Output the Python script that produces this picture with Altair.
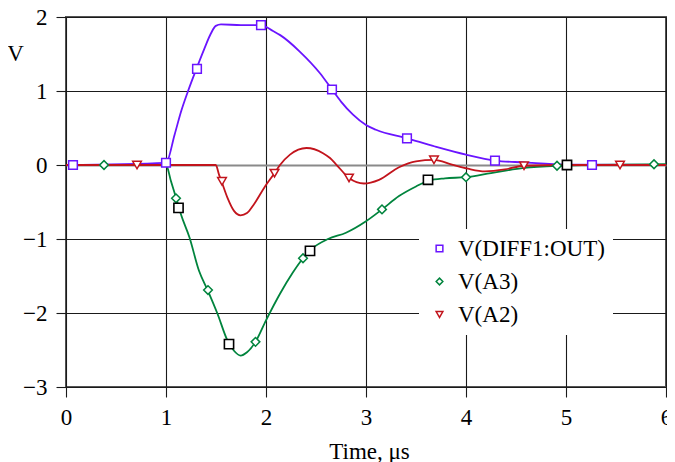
import altair as alt
import pandas as pd

series_names = ["V(DIFF1:OUT)", "V(A3)", "V(A2)"]
series_colors = ["#6a14ff", "#00843d", "#c2141c"]
series_shapes = ["square", "diamond", "triangle-down"]

# V(DIFF1:OUT) trace
diff_t = [0, 1.0, 1.086, 1.15, 1.218, 1.307, 1.383, 1.45, 1.498, 1.55, 1.75, 1.953, 2.07, 2.142,
          2.34, 2.54, 2.66, 2.75, 2.87, 3.0, 3.10, 3.41, 3.69, 4.0, 4.29, 4.58, 5.0, 6.0]
diff_v = [0, 0.03, 0.41, 0.72, 0.99, 1.31, 1.57, 1.78, 1.88, 1.90, 1.89, 1.89, 1.81, 1.755,
          1.53, 1.24, 1.02, 0.857, 0.68, 0.54, 0.476, 0.36, 0.25, 0.14, 0.06, 0.035, 0.005, 0.0]

# V(A3) trace
a3_t = [0, 1.0, 1.05, 1.10, 1.15, 1.235, 1.33, 1.416, 1.515, 1.614, 1.68, 1.746, 1.81, 1.895,
        2.0, 2.14, 2.27, 2.37, 2.47, 2.62, 2.80, 3.0, 3.16, 3.33, 3.50, 3.63, 3.79, 4.0, 4.25,
        4.58, 4.91, 5.2, 6.0]
a3_v = [0, 0, -0.22, -0.44, -0.67, -0.98, -1.43, -1.69, -2.01, -2.37, -2.51, -2.575, -2.53, -2.39,
        -2.10, -1.74, -1.45, -1.26, -1.12, -1.0, -0.915, -0.76, -0.60, -0.42, -0.29, -0.21, -0.18,
        -0.165, -0.11, -0.04, -0.01, 0.0, 0.01]

# V(A2) trace
a2_t = [0, 1.498, 1.53, 1.555, 1.614, 1.68, 1.746, 1.81, 1.88, 1.99, 2.085, 2.14, 2.24, 2.405,
        2.57, 2.64, 2.70, 2.83, 2.98, 3.13, 3.33, 3.50, 3.68, 3.86, 4.02, 4.19, 4.39, 4.58, 5.0, 6.0]
a2_v = [0, 0, -0.13, -0.22, -0.44, -0.62, -0.68, -0.65, -0.53, -0.29, -0.11, 0.0, 0.14, 0.23,
        0.16, 0.094, 0.01, -0.175, -0.25, -0.20, -0.03, 0.05, 0.07, 0.005, -0.05, -0.085, -0.06,
        -0.01, 0.0, 0.0]

# marker positions
diff_mark_t = [0.07, 1.0, 1.31, 1.95, 2.66, 3.41, 4.29, 5.26]
diff_mark_v = [0, 0.03, 1.3, 1.89, 1.02, 0.36, 0.06, 0.0]
a3_mark_t = [0.38, 1.10, 1.42, 1.895, 2.37, 3.16, 4.0, 4.91, 5.88]
a3_mark_v = [0, -0.45, -1.69, -2.39, -1.26, -0.60, -0.165, -0.01, 0.01]
a2_mark_t = [0.71, 1.56, 2.085, 2.83, 3.68, 4.58, 5.54]
a2_mark_v = [0, -0.22, -0.11, -0.175, 0.07, -0.01, 0.0]
cursor_t = [1.125, 1.63, 2.44, 3.62, 5.01]
cursor_v = [-0.58, -2.42, -1.16, -0.20, 0.0]

x_ticks = [0, 1, 2, 3, 4, 5, 6]
y_ticks = [-3, -2, -1, 0, 1, 2]

FONT = "Liberation Serif"
PLOT_W = 600
PLOT_H = 370

x_enc = alt.X(
    "t:Q",
    scale=alt.Scale(domain=[0, 6], nice=False, zero=False),
    axis=alt.Axis(
        values=x_ticks, title="Time, μs", domain=False, grid=True,
        gridColor="#1a1a1a", gridWidth=1.1, tickColor="#1a1a1a", tickSize=10, tickWidth=1.1,
        labelFont=FONT, labelFontSize=23, labelColor="black", labelPadding=9,
        labelFlush=False, labelOverlap=False,
        titleFont=FONT, titleFontSize=23, titleFontWeight="normal", titleColor="black",
        titleX=PLOT_W / 2 + 3, titleY=71, titleAlign="center", titleBaseline="alphabetic",
    ),
)
y_enc = alt.Y(
    "v:Q",
    scale=alt.Scale(domain=[-3, 2], nice=False, zero=False),
    axis=alt.Axis(
        values=y_ticks, title="V", domain=False, grid=True,
        gridColor={"condition": {"test": "datum.value === 0", "value": "#8a8a8a"}, "value": "#1a1a1a"},
        gridWidth={"condition": {"test": "datum.value === 0", "value": 1.8}, "value": 1.1},
        tickColor="#1a1a1a", tickSize=10, tickWidth=1.1,
        labelFont=FONT, labelFontSize=23, labelColor="black", labelPadding=9,
        labelFlush=False, labelOverlap=False,
        titleFont=FONT, titleFontSize=23, titleFontWeight="normal", titleColor="black",
        titleAngle=0, titleX=-51, titleY=43, titleAlign="center", titleBaseline="alphabetic",
    ),
)


def trace(t, v, color):
    df = pd.DataFrame({"t": t, "v": v})
    return alt.Chart(df).mark_line(interpolate="monotone", strokeWidth=1.8, color=color).encode(
        x=x_enc, y=y_enc
    )


line_diff = trace(diff_t, diff_v, series_colors[0])
line_a3 = trace(a3_t, a3_v, series_colors[1])
line_a2 = trace(a2_t, a2_v, series_colors[2])

mark_df = pd.concat([
    pd.DataFrame({"series": series_names[0], "t": diff_mark_t, "v": diff_mark_v}),
    pd.DataFrame({"series": series_names[1], "t": a3_mark_t, "v": a3_mark_v}),
    pd.DataFrame({"series": series_names[2], "t": a2_mark_t, "v": a2_mark_v}),
])

legend = alt.Legend(
    orient="none", legendX=353, legendY=212, title=None, fillColor="white", padding=8,
    labelFont=FONT, labelFontSize=23, labelColor="black", symbolSize=45, symbolStrokeWidth=1.5,
    rowPadding=9, symbolOffset=1, labelOffset=7,
    labelExpr="datum.label + '\u00a0\u00a0\u00a0\u00a0\u00a0\u00a0\u00a0'",
)

markers = alt.Chart(mark_df).mark_point(
    filled=True, fill="white", fillOpacity=1, size=75, strokeWidth=1.5, opacity=1
).encode(
    x=x_enc,
    y=y_enc,
    stroke=alt.Stroke("series:N", scale=alt.Scale(domain=series_names, range=series_colors), legend=legend),
    shape=alt.Shape("series:N", scale=alt.Scale(domain=series_names, range=series_shapes), legend=legend),
)

cursor_df = pd.DataFrame({"t": cursor_t, "v": cursor_v})
cursors = alt.Chart(cursor_df).mark_point(
    shape="square", filled=True, fill="white", stroke="black", size=85, strokeWidth=1.6, opacity=1
).encode(x=x_enc, y=y_enc)

chart = alt.layer(line_diff, line_a3, line_a2, markers, cursors).properties(
    width=PLOT_W,
    height=PLOT_H,
    autosize=alt.AutoSizeParams(type="none"),
    padding={"left": 58, "top": 9, "right": 1, "bottom": 77},
    background="white",
).configure_view(stroke="#555555", strokeWidth=2)

chart.save("out.html", embed_options={"renderer": "svg", "actions": False})
